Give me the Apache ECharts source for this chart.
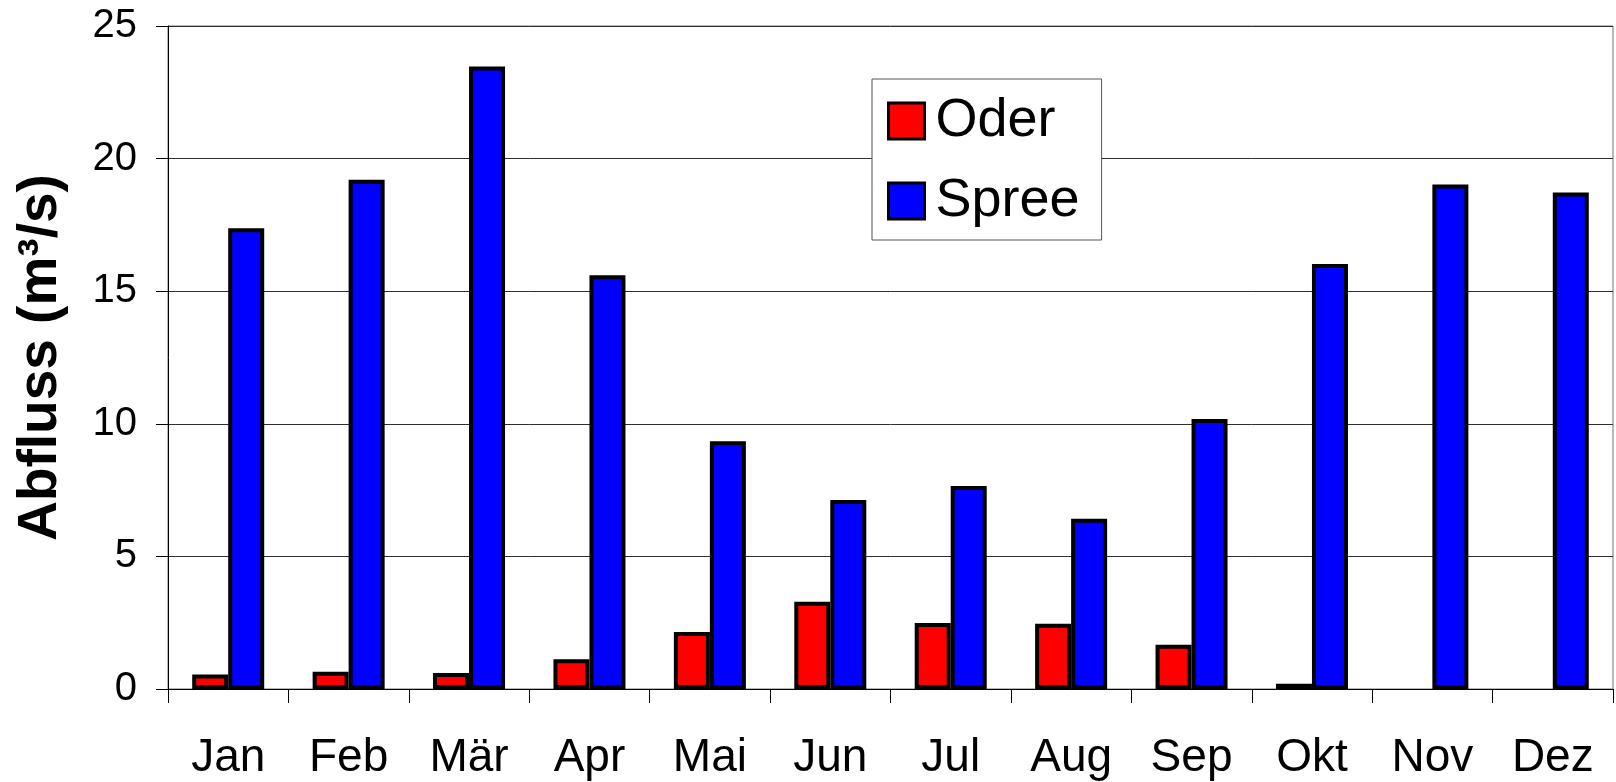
<!DOCTYPE html>
<html>
<head>
<meta charset="utf-8">
<script src="https://cdn.jsdelivr.net/npm/echarts@6/dist/echarts.min.js"></script>
<style>
html,body{margin:0;padding:0;background:#fff;}
#chart{width:1616px;height:782px;}
</style>
</head>
<body>
<div id="chart"></div>
<script>
const categories = ['Jan','Feb','Mär','Apr','Mai','Jun','Jul','Aug','Sep','Okt','Nov','Dez'];
const oderValues = [0.55, 0.65, 0.6, 1.12, 2.15, 3.29, 2.49, 2.46, 1.67, 0.2, null, null];
const spreeValues = [17.37, 19.2, 23.47, 15.6, 9.34, 7.13, 7.65, 6.42, 10.18, 16.03, 19.02, 18.72];
const yTicks = [0, 5, 10, 15, 20, 25];
const seriesNames = ['Oder', 'Spree'];
const yTitle = 'Abfluss (m³/s)';

const FONT = "'Liberation Sans', Arial, sans-serif";
const chart = echarts.init(document.getElementById('chart'), null, {renderer: 'canvas'});
chart.setOption({
  animation: false,
  backgroundColor: '#ffffff',
  textStyle: {fontFamily: FONT, color: '#000'},
  grid: {left: 168, right: 3, top: 26, bottom: 93, show: true, borderColor: '#707070', borderWidth: 1, backgroundColor: 'transparent'},
  legend: {
    data: seriesNames,
    left: 872, top: 79,
    orient: 'vertical',
    backgroundColor: '#fff',
    borderColor: '#555',
    borderWidth: 1,
    padding: [15, 22, 12, 15],
    itemWidth: 36, itemHeight: 36,
    itemGap: 26,
    icon: 'rect',
    itemStyle: {borderColor: '#000', borderWidth: 3},
    textStyle: {fontFamily: FONT, fontSize: 54, color: '#000', padding: [0, 0, 0, 6]}
  },
  xAxis: {
    type: 'category',
    data: categories,
    boundaryGap: true,
    axisLine: {lineStyle: {color: '#000', width: 1}},
    axisTick: {show: true, length: 14, interval: 0, lineStyle: {color: '#000'}},
    axisLabel: {fontFamily: FONT, fontSize: 46, color: '#000', margin: 46, interval: 0},
    splitLine: {show: false}
  },
  yAxis: {
    type: 'value',
    min: yTicks[0], max: yTicks[yTicks.length - 1], interval: 5,
    name: yTitle,
    nameLocation: 'middle',
    nameGap: 100,
    nameTextStyle: {fontFamily: FONT, fontSize: 55, fontWeight: 'bold', color: '#000'},
    axisLine: {show: true, lineStyle: {color: '#000', width: 1}},
    axisTick: {show: true, length: 12, lineStyle: {color: '#000'}},
    axisLabel: {fontFamily: FONT, fontSize: 40, color: '#000', margin: 31},
    splitLine: {show: true, lineStyle: {color: '#303030', width: 1}}
  },
  series: [
    {
      name: seriesNames[0], type: 'bar', data: oderValues,
      barWidth: 36, barGap: '0%',
      itemStyle: {color: '#ff0000', borderColor: '#000', borderWidth: 4}
    },
    {
      name: seriesNames[1], type: 'bar', data: spreeValues,
      barWidth: 36, barGap: '0%',
      itemStyle: {color: '#0000ff', borderColor: '#000', borderWidth: 4}
    }
  ]
});
</script>
</body>
</html>
